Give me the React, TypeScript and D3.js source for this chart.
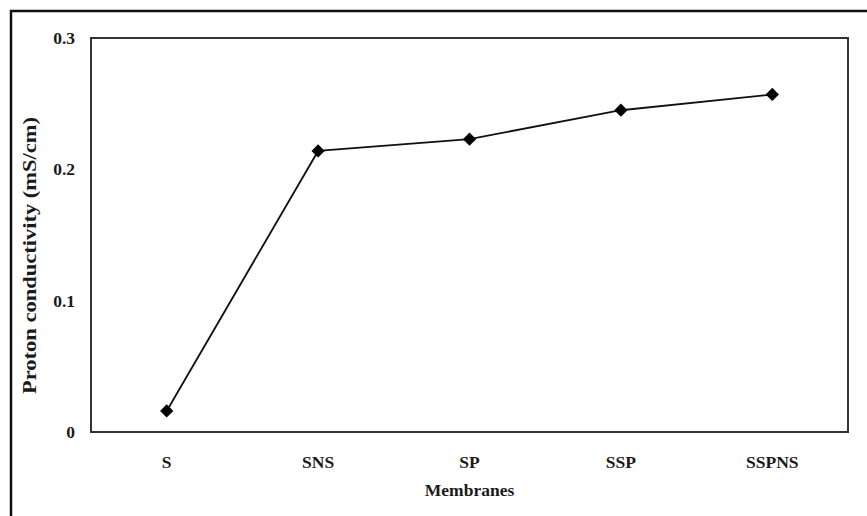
import React from "react";
import * as d3 from "d3";

// Proton conductivity per membrane type
const membranes = ["S", "SNS", "SP", "SSP", "SSPNS"];
const conductivity = [0.016, 0.214, 0.223, 0.245, 0.257];
const yTicks = [0, 0.1, 0.2, 0.3];

const W = 867;
const H = 516;
const plot = { left: 91, right: 848, top: 38, bottom: 432 };
const FONT = "'Liberation Serif', 'Times New Roman', serif";

export default function App() {
  const x = d3
    .scaleBand<string>()
    .domain(membranes)
    .range([plot.left, plot.right])
    .padding(0);
  const y = d3.scaleLinear().domain([0, 0.3]).range([plot.bottom, plot.top]);

  const data = membranes.map((m, i) => ({ m, v: conductivity[i] }));
  const cx = (m: string) => (x(m) as number) + x.bandwidth() / 2;

  const line = d3
    .line<{ m: string; v: number }>()
    .x((d) => cx(d.m))
    .y((d) => y(d.v));

  const marker = d3.symbol(d3.symbolSquare, 88)() as string;

  return (
    <svg
      width={W}
      height={H}
      style={{ position: "absolute", left: 0, top: 0, background: "#fff" }}
      fontFamily={FONT}
      fontWeight="bold"
    >
      {/* outer frame */}
      <rect x={11} y={11} width={W + 20} height={H + 20} fill="none" stroke="#111" strokeWidth={2.5} />

      {/* plot box */}
      <rect
        x={plot.left}
        y={plot.top}
        width={plot.right - plot.left}
        height={plot.bottom - plot.top}
        fill="none"
        stroke="#333"
        strokeWidth={2}
      />

      {/* y tick labels */}
      {yTicks.map((t) => (
        <text
          key={t}
          x={75}
          y={y(t)}
          textAnchor="end"
          dominantBaseline="central"
          fontSize={17.5}
          fill="#1a1a1a"
        >
          {t === 0 ? "0" : d3.format(".1f")(t)}
        </text>
      ))}

      {/* x category labels */}
      {membranes.map((m) => (
        <text key={m} x={cx(m)} y={468} textAnchor="middle" fontSize={17.5} fill="#1a1a1a">
          {m}
        </text>
      ))}

      {/* axis titles */}
      <text x={(plot.left + plot.right) / 2} y={496} textAnchor="middle" fontSize={17.5} fill="#1a1a1a">
        Membranes
      </text>
      <text
        transform={`translate(36, 255.5) rotate(-90)`}
        textAnchor="middle"
        fontSize={19}
        textLength={277}
        lengthAdjust="spacingAndGlyphs"
        fill="#1a1a1a"
      >
        Proton conductivity (mS/cm)
      </text>

      {/* series */}
      <path d={line(data) as string} fill="none" stroke="#111" strokeWidth={1.8} />
      {data.map((d) => (
        <path
          key={d.m}
          d={marker}
          transform={`translate(${cx(d.m)}, ${y(d.v)}) rotate(45)`}
          fill="#000"
        />
      ))}
    </svg>
  );
}
